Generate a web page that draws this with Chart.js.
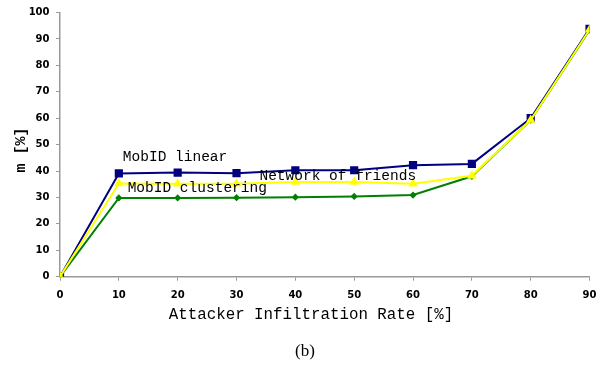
<!DOCTYPE html>
<html>
<head>
<meta charset="utf-8">
<script src="https://cdn.jsdelivr.net/npm/chart.js@4.4.1/dist/chart.umd.min.js"></script>
<style>
  html, body { margin: 0; padding: 0; background: #fff; }
  #wrap { width: 605px; height: 368px; position: relative; }
</style>
</head>
<body>
<div id="wrap"><canvas id="c" width="605" height="368"></canvas></div>
<script>
const xValues = [0, 10, 20, 30, 40, 50, 60, 70, 80, 90];
const mobidLinear = [0, 39.1, 39.4, 39.2, 40.3, 40.3, 42.2, 42.7, 60.0, 93.8];
const networkOfFriends = [0, 35.3, 35.2, 35.2, 35.8, 35.8, 35.2, 38.2, 59.3, 93.5];
const mobidClustering = [0, 29.8, 29.8, 29.9, 30.1, 30.4, 30.9, 38.0, 59.3, 93.3];
const seriesNames = ['MobID linear', 'Network of friends', 'MobID clustering'];
const xTitle = 'Attacker Infiltration Rate [%]';
const yTitle = 'm [%]';
const caption = '(b)';

function pts(ys) { return xValues.map((x, i) => ({ x: x, y: ys[i] })); }

// inline series labels anchored in data coordinates
const inlineLabels = [
  { text: seriesNames[0], x: 10.68, y: 45.1 },
  { text: seriesNames[1], x: 33.9, y: 37.9 },
  { text: seriesNames[2], x: 11.5, y: 33.6 }
];

const textPlugin = {
  id: 'texts',
  afterDatasetsDraw(chart) {
    const ctx = chart.ctx;
    const xs = chart.scales.x, ys = chart.scales.y;
    ctx.save();
    ctx.fillStyle = '#000';
    ctx.font = '14.5px "Liberation Mono", "Courier New", monospace';
    ctx.textBaseline = 'middle';
    ctx.textAlign = 'left';
    inlineLabels.forEach(l => {
      ctx.fillText(l.text, xs.getPixelForValue(l.x), ys.getPixelForValue(l.y));
    });
    ctx.restore();
  },
  afterDraw(chart) {
    const ctx = chart.ctx;
    ctx.save();
    ctx.fillStyle = '#000';
    ctx.textBaseline = 'middle';
    ctx.textAlign = 'center';
    ctx.font = '15.8px "Liberation Mono", "Courier New", monospace';
    ctx.fillText(xTitle, 311, 315);
    ctx.font = 'bold 15px "Liberation Mono", "Courier New", monospace';
    ctx.translate(21, 150);
    ctx.rotate(-Math.PI / 2);
    ctx.fillText(yTitle, 0, 0);
    ctx.restore();
    ctx.save();
    ctx.fillStyle = '#000';
    ctx.textBaseline = 'middle';
    ctx.textAlign = 'center';
    ctx.font = '17px "Liberation Serif", "Times New Roman", serif';
    ctx.fillText(caption, 305, 352);
    ctx.restore();
  }
};

const axisGrey = '#999999';
const tickFont = { family: '"DejaVu Sans", Verdana, sans-serif', size: 10, weight: 'bold' };

new Chart(document.getElementById('c'), {
  type: 'line',
  data: {
    datasets: [
      {
        label: seriesNames[1], data: pts(networkOfFriends),
        borderColor: '#ffff00', backgroundColor: '#ffff00', borderWidth: 2,
        pointStyle: 'triangle', pointRadius: 5.5, pointHoverRadius: 5.5, pointBorderWidth: 0,
        tension: 0
      },
      {
        label: seriesNames[2], data: pts(mobidClustering),
        borderColor: '#008000', backgroundColor: '#008000', borderWidth: 2,
        pointStyle: 'rectRot', pointRadius: 3.6, pointHoverRadius: 3.6, pointBorderWidth: 0,
        tension: 0
      },
      {
        label: seriesNames[0], data: pts(mobidLinear),
        borderColor: '#000080', backgroundColor: '#000080', borderWidth: 2,
        pointStyle: 'rect', pointRadius: 5.8, pointHoverRadius: 5.8, pointBorderWidth: 0,
        tension: 0
      }
    ]
  },
  options: {
    responsive: false,
    animation: false,
    devicePixelRatio: 1,
    layout: { padding: { left: 0, right: 14, top: 8.7, bottom: 0 } },
    plugins: { legend: { display: false }, tooltip: { enabled: false }, title: { display: false } },
    scales: {
      x: {
        type: 'linear', min: 0, max: 90,
        afterFit(s) { s.height = 91.3; },
        border: { color: axisGrey, width: 1.5 },
        grid: { display: true, drawOnChartArea: false, drawTicks: true, tickLength: 4, color: axisGrey, lineWidth: 1 },
        ticks: { stepSize: 10, color: '#000', font: tickFont, padding: 8.5, maxRotation: 0 }
      },
      y: {
        type: 'linear', min: 0, max: 100,
        afterFit(s) { s.width = 60; },
        border: { color: axisGrey, width: 1.5 },
        grid: { display: true, drawOnChartArea: false, drawTicks: true, tickLength: 4, color: axisGrey, lineWidth: 1 },
        ticks: { stepSize: 10, color: '#000', font: tickFont, padding: 6.5 }
      }
    }
  },
  plugins: [textPlugin]
});
</script>
</body>
</html>
